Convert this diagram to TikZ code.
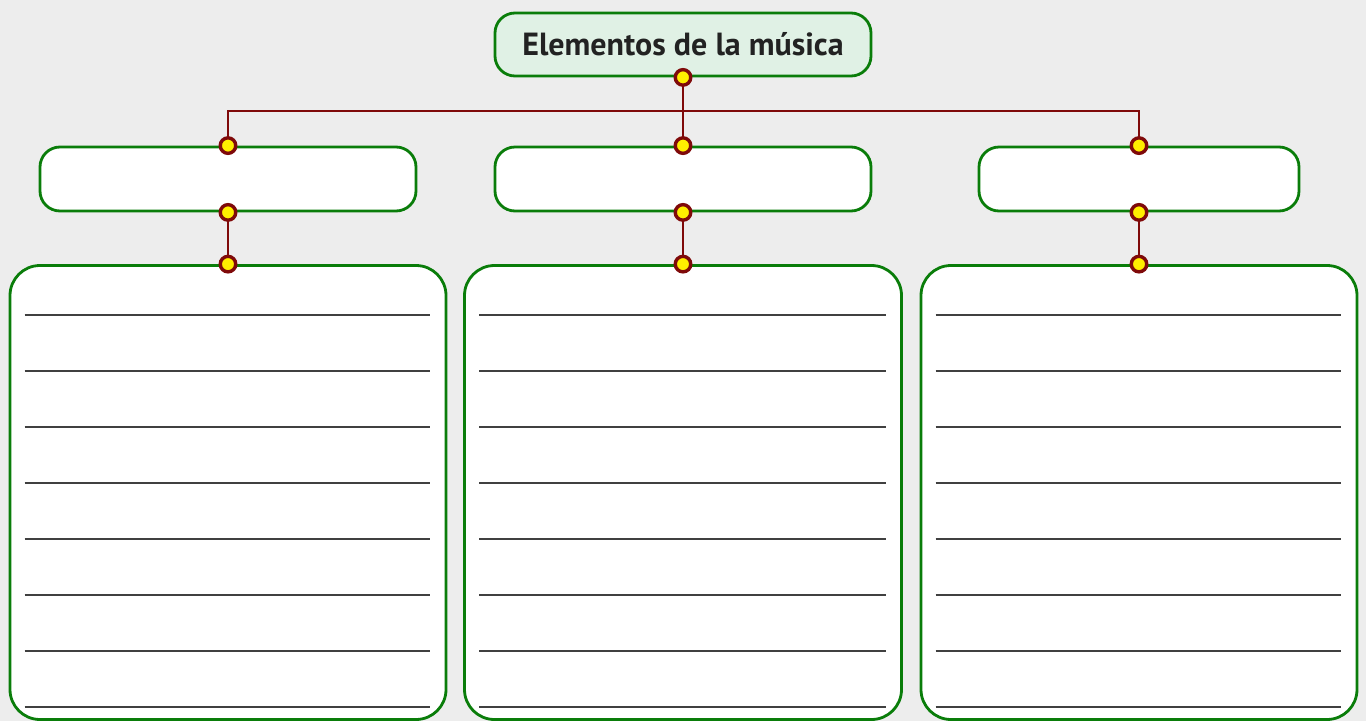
\documentclass[tikz,border=0pt]{standalone}
\usepackage{fontspec}
\setmainfont{PT Sans}
\usetikzlibrary{calc}
\definecolor{bg}{HTML}{EDEDED}
\definecolor{bgreen}{HTML}{0A7D0A}
\definecolor{tfill}{HTML}{E0F1E5}
\definecolor{dred}{HTML}{7F0A0A}
\definecolor{dotyel}{HTML}{FFEE00}
\definecolor{txt}{HTML}{222222}
\tikzset{
  gbox/.style={draw=bgreen, line width=2.8pt, fill=white, rounded corners=20pt, inner sep=0pt},
  bigbox/.style={draw=bgreen, line width=2.8pt, fill=white, rounded corners=30pt, inner sep=0pt},
  conn/.style={draw=dred, line width=2.8pt},
  dotnode/.style={circle, draw=dred, fill=dotyel, line width=3.4pt, minimum size=15.5pt, inner sep=0pt},
  wline/.style={draw=black!75, line width=1.8pt},
}
\begin{document}
\begin{tikzpicture}[x=1pt,y=-1pt]
\fill[bg] (0,0) rectangle (1366,721);
\useasboundingbox (0,0) rectangle (1366,721);
% title
\node[gbox, fill=tfill, minimum width=376pt, minimum height=63pt, font=\bfseries\fontsize{32}{38}\selectfont, text=txt] (t) at (683,44.5) {Elementos de la música};
% middle boxes
\node[gbox, minimum width=376pt, minimum height=64pt] (m1) at (228,179) {};
\node[gbox, minimum width=376pt, minimum height=64pt] (m2) at (683,179) {};
\node[gbox, minimum width=320pt, minimum height=64pt] (m3) at (1139,179) {};
% big boxes
\node[bigbox, minimum width=436pt, minimum height=454pt] (b1) at (228,492.5) {};
\node[bigbox, minimum width=437pt, minimum height=454pt] (b2) at (683,492.5) {};
\node[bigbox, minimum width=436pt, minimum height=454pt] (b3) at (1139,492.5) {};
% writing lines
\foreach \b in {b1,b2,b3}{
  \foreach \k in {0,...,7}{
    \draw[wline] ($(\b.north west)+(16,50.5+56*\k)$) -- ($(\b.north east)+(-17,50.5+56*\k)$);
  }
}
% connectors
\coordinate (j) at (683,111);
\draw[conn] (t.south) -- (m2.north);
\draw[conn] (m1.north) |- (j) -| (m3.north);
\draw[conn] (m1.south) -- (b1.north);
\draw[conn] (m2.south) -- (b2.north);
\draw[conn] (m3.south) -- (b3.north);
% dots
\foreach \a in {t.south,m1.north,m2.north,m3.north,m1.south,m2.south,m3.south,b1.north,b2.north,b3.north}{
  \node[dotnode] at (\a) {};
}
\end{tikzpicture}
\end{document}
